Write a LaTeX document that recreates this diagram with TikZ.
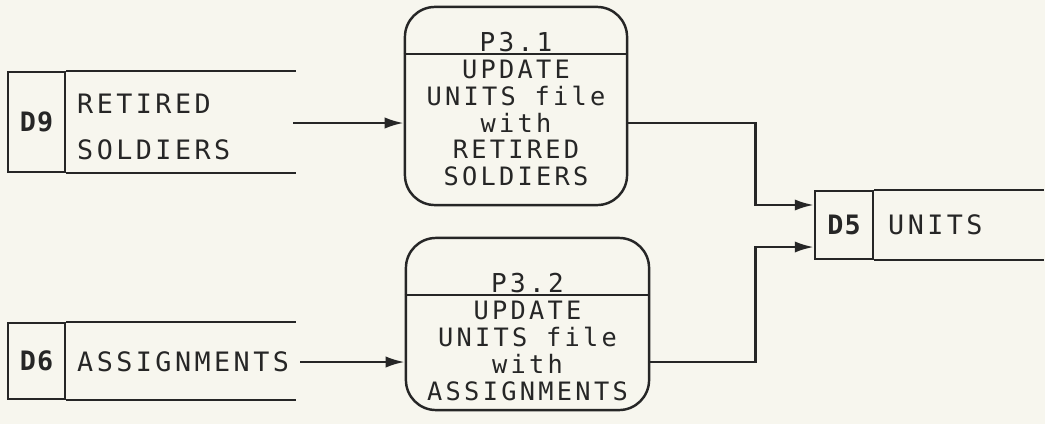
\documentclass[tikz,border=0pt]{standalone}
\usepackage{fontspec}
\usetikzlibrary{arrows.meta,positioning}

\newfontfamily\plotfont[LetterSpace=13]{DejaVu Sans Mono}
\newfontfamily\idfont[LetterSpace=4]{DejaVu Sans Mono Bold}

\definecolor{paper}{HTML}{F7F6EE}
\definecolor{ink}{HTML}{262626}

\tikzset{
  storeid/.style={draw, inner sep=0pt, minimum width=0.57cm,
    font=\idfont\fontsize{7.6}{8}\selectfont},
  storetext/.style={anchor=west, inner sep=0pt, align=left,
    font=\plotfont\fontsize{7.6}{8}\selectfont},
  proc/.style={draw, rounded corners=0.3cm, inner sep=0pt},
  proctitle/.style={inner sep=0pt, font=\plotfont\fontsize{7.4}{8}\selectfont},
  procbody/.style={inner sep=0pt, align=center,
    font=\plotfont\fontsize{7.2}{7.6}\selectfont},
  flow/.style={-{Latex[length=5.4pt,width=3.2pt]}},
}

\begin{document}
\begin{tikzpicture}[x=0.01cm, y=-0.01cm, line width=0.7pt, color=ink]
  \fill[paper] (0,0) rectangle (1045,424);
  \useasboundingbox (0,0) rectangle (1045,424);

  % data stores
  \node[storeid, minimum height=1cm] (d9id) at (36.5,122) {D9};
  \node[storetext] (d9) at (76,127) {RETIRED\\[5pt]SOLDIERS};
  \draw (d9id.north east) -- ++(230,0);
  \draw (d9id.south east) -- ++(230,0);

  \node[storeid, minimum height=0.76cm] (d6id) at (36.5,361) {D6};
  \node[storetext] (d6) at (76,362) {ASSIGNMENTS};
  \draw (d6id.north east) -- ++(230,0);
  \draw (d6id.south east) -- ++(230,0);

  \node[storeid, minimum width=0.58cm, minimum height=0.68cm] (d5id) at (844,225) {D5};
  \node[storetext] (d5) at (887,225) {UNITS};
  \draw (d5id.north east) -- ++(170,0);
  \draw (d5id.south east) -- ++(170,0);

  % processes
  \node[proc, minimum width=2.22cm, minimum height=1.98cm] (p31) at (516,106) {};
  \node[proctitle] (p31t) at (516,42) {P3.1};
  \draw ([yshift=-0.48cm]p31.north west) -- ([yshift=-0.48cm]p31.north east);
  \node[procbody] (p31b) at (516,123)
    {UPDATE\\UNITS file\\with\\RETIRED\\SOLDIERS};

  \node[proc, minimum width=2.43cm, minimum height=1.72cm] (p32) at (527.5,324) {};
  \node[proctitle] (p32t) at (527.5,283) {P3.2};
  \draw ([yshift=-0.58cm]p32.north west) -- ([yshift=-0.58cm]p32.north east);
  \node[procbody] (p32b) at (527.5,351)
    {UPDATE\\UNITS file\\with\\ASSIGNMENTS};

  % flows
  \coordinate (d9out) at (293,123);
  \coordinate (d6out) at (300,362);
  \coordinate (d5in1) at ([yshift=0.2cm]d5id.west);
  \coordinate (d5in2) at ([yshift=-0.22cm]d5id.west);

  \draw[flow] (d9out) -- (d9out -| p31.west);
  \draw[flow] (d6out) -- (d6out -| p32.west);
  \draw[flow] (d9out -| p31.east) -- ++(127,0) |- (d5in1);
  \draw[flow] (d6out -| p32.east) -- ++(105,0) |- (d5in2);
\end{tikzpicture}
\end{document}
